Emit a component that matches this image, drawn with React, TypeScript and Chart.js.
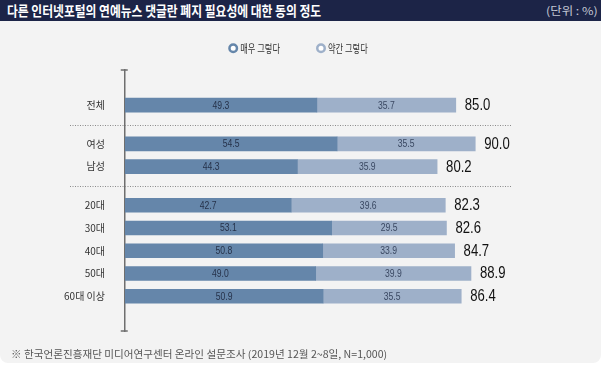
import React, { useEffect, useLayoutEffect, useRef } from "react";
import { Chart, registerables } from "chart.js";

Chart.register(...registerables);

// ---- data ----
const categories = ["전체", "여성", "남성", "20대", "30대", "40대", "50대", "60대 이상"];
const stronglyAgree = [49.3, 54.5, 44.3, 42.7, 53.1, 50.8, 49.0, 50.9];
const somewhatAgree = [35.7, 35.5, 35.9, 39.6, 29.5, 33.9, 39.9, 35.5];
const totals = [85.0, 90.0, 80.2, 82.3, 82.6, 84.7, 88.9, 86.4];
const seriesNames = ["매우 그렇다", "약간 그렇다"];
const titleText = "다른 인터넷포털의 연예뉴스 댓글란 폐지 필요성에 대한 동의 정도";
const unitText = "(단위 : %)";
const noteText = "※  한국언론진흥재단 미디어연구센터 온라인 설문조사 (2019년 12월 2~8일, N=1,000)";

// ---- layout (row positions on the index axis; groups separated by gaps) ----
const rowPos = [0, 1.7, 2.7, 4.4, 5.4, 6.4, 7.4, 8.4];
const separatorPos = [0.85, 3.55];

const DARK = "#6586aa";
const LIGHT = "#9eb0c9";
const BG = "#f3f3f3";
const KR = '"Noto Sans CJK KR", "Noto Sans", sans-serif';
const NUM = '"Liberation Sans", Arial, sans-serif';
const NUM_SX = 0.82;

function scaledText(ctx: any, text: string, x: number, y: number, sx: number, align: "left" | "center") {
  const w = ctx.measureText(text).width * sx;
  const x0 = align === "center" ? x - w / 2 : x;
  ctx.save();
  ctx.textAlign = "left";
  ctx.translate(x0, y);
  ctx.scale(sx, 1);
  ctx.fillText(text, 0, 0);
  ctx.restore();
}

const decor = {
  id: "decor",
  beforeDatasetsDraw(chart: any) {
    const { ctx, chartArea, scales } = chart;
    const ys = scales.y;
    const xs = scales.x;
    ctx.save();
    // dotted separators
    ctx.strokeStyle = "#8a8a8a";
    ctx.lineWidth = 1;
    ctx.setLineDash([1, 1.5]);
    separatorPos.forEach((p) => {
      const y = Math.round(ys.getPixelForValue(p)) + 0.5;
      ctx.beginPath();
      ctx.moveTo(70, y);
      ctx.lineTo(xs.getPixelForValue(99.5), y);
      ctx.stroke();
    });
    ctx.setLineDash([]);
    // axis caps
    ctx.strokeStyle = "#6e6e6e";
    ctx.lineWidth = 1.5;
    const ax = chartArea.left - 0.75;
    [chartArea.top, chartArea.bottom].forEach((y) => {
      ctx.beginPath();
      ctx.moveTo(ax - 3.5, y);
      ctx.lineTo(ax + 3.5, y);
      ctx.stroke();
    });
    ctx.restore();
  },
  afterDatasetsDraw(chart: any) {
    const { ctx } = chart;
    ctx.save();
    ctx.textBaseline = "middle";
    // segment values
    chart.data.datasets.forEach((ds: any, di: number) => {
      const meta = chart.getDatasetMeta(di);
      ctx.font = `10.5px ${NUM}`;
      ctx.fillStyle = di === 0 ? "#26324a" : "#3a4862";
      meta.data.forEach((el: any, i: number) => {
        const v = ds.data[i].x;
        scaledText(ctx, v.toFixed(1), (el.x + el.base) / 2, el.y + 0.5, NUM_SX, "center");
      });
    });
    // totals
    const last = chart.getDatasetMeta(chart.data.datasets.length - 1);
    ctx.font = `16px ${NUM}`;
    ctx.fillStyle = "#111";
    last.data.forEach((el: any, i: number) => {
      scaledText(ctx, totals[i].toFixed(1), el.x + 9, el.y + 0.5, NUM_SX, "left");
    });
    ctx.restore();
  },
  afterDraw(chart: any) {
    // legend
    const { ctx, width } = chart;
    const sx = 0.75;
    const y = 27.3;
    const r = 3.75;
    const textGap = 7;
    const itemGap = 36;
    ctx.save();
    ctx.font = `11px ${KR}`;
    const items = chart.data.datasets.map((ds: any) => ({
      text: ds.label,
      color: ds.backgroundColor,
      w: ctx.measureText(ds.label).width * sx,
    }));
    const total = items.reduce((s: number, it: any) => s + 5 + textGap + it.w, 0) + itemGap * (items.length - 1) + 5;
    let x = width / 2 - total / 2;
    items.forEach((it: any) => {
      const cx = x + 5;
      ctx.beginPath();
      ctx.arc(cx, y, r, 0, Math.PI * 2);
      ctx.fillStyle = "#ffffff";
      ctx.fill();
      ctx.lineWidth = 2.5;
      ctx.strokeStyle = it.color;
      ctx.stroke();
      ctx.fillStyle = "#333";
      ctx.textBaseline = "middle";
      scaledText(ctx, it.text, cx + textGap, y + 0.5, sx, "left");
      x = cx + textGap + it.w + itemGap;
    });
    ctx.restore();
  },
};

function FitText({ text, width, style }: { text: string; width: number; style: React.CSSProperties }) {
  const ref = useRef<HTMLSpanElement>(null);
  useLayoutEffect(() => {
    const el = ref.current;
    if (!el) return;
    const w = el.scrollWidth;
    if (w > 0) el.style.transform = `scaleX(${width / w})`;
  }, [text, width]);
  return (
    <span
      ref={ref}
      style={{ position: "absolute", whiteSpace: "nowrap", transformOrigin: "left center", display: "inline-block", ...style }}
    >
      {text}
    </span>
  );
}

export default function App() {
  const ref = useRef<HTMLCanvasElement>(null);
  useEffect(() => {
    document.body.style.margin = "0";
    const chart = new Chart(ref.current!, {
      type: "bar",
      data: {
        datasets: [
          {
            label: seriesNames[0],
            data: stronglyAgree.map((v, i) => ({ x: v, y: rowPos[i] })),
            backgroundColor: DARK,
            borderWidth: 0,
            barThickness: 14,
          },
          {
            label: seriesNames[1],
            data: somewhatAgree.map((v, i) => ({ x: v, y: rowPos[i] })),
            backgroundColor: LIGHT,
            borderWidth: 0,
            barThickness: 14,
          },
        ],
      },
      options: {
        indexAxis: "y",
        responsive: false,
        animation: false,
        devicePixelRatio: 1,
        layout: { padding: { top: 49, bottom: 32, left: 0, right: 9 } },
        plugins: { legend: { display: false }, tooltip: { enabled: false }, title: { display: false } },
        scales: {
          x: { type: "linear", min: 0, max: 120, stacked: true, display: false },
          y: {
            type: "linear",
            reverse: true,
            min: -0.83,
            max: 9.21,
            stacked: true,
            grid: { display: false, drawTicks: false },
            border: { display: true, color: "#6e6e6e", width: 1.5 },
            afterBuildTicks: (scale: any) => {
              scale.ticks = rowPos.map((v) => ({ value: v }));
            },
            afterFit: (scale: any) => {
              scale.width = 125;
            },
            ticks: {
              autoSkip: false,
              padding: 20,
              color: "#333",
              font: { family: KR, size: 10 },
              callback: (_v: any, i: number) => categories[i],
            },
          },
        },
      } as any,
      plugins: [decor],
    });
    return () => chart.destroy();
  }, []);

  return (
    <div style={{ position: "relative", width: 601, height: 367, background: "#fff", overflow: "hidden", fontFamily: KR }}>
      <div style={{ position: "absolute", left: 0, top: 21, width: 601, height: 342, background: BG, borderRadius: "0 0 8px 8px" }} />
      <div style={{ position: "absolute", left: 0, top: 0, width: 601, height: 21, background: "#1c2447" }}>
        <FitText text={titleText} width={314} style={{ left: 7, top: 0, lineHeight: "21px", fontSize: 14, fontWeight: 700, color: "#fff" }} />
        <FitText text={unitText} width={52} style={{ left: 546, top: 0, lineHeight: "21px", fontSize: 11, color: "#c3c7d3" }} />
      </div>
      <canvas ref={ref} width={601} height={342} style={{ position: "absolute", left: 0, top: 21 }} />
      <FitText text={noteText} width={376} style={{ left: 11, top: 348, lineHeight: "12px", fontSize: 10, color: "#555" }} />
    </div>
  );
}
